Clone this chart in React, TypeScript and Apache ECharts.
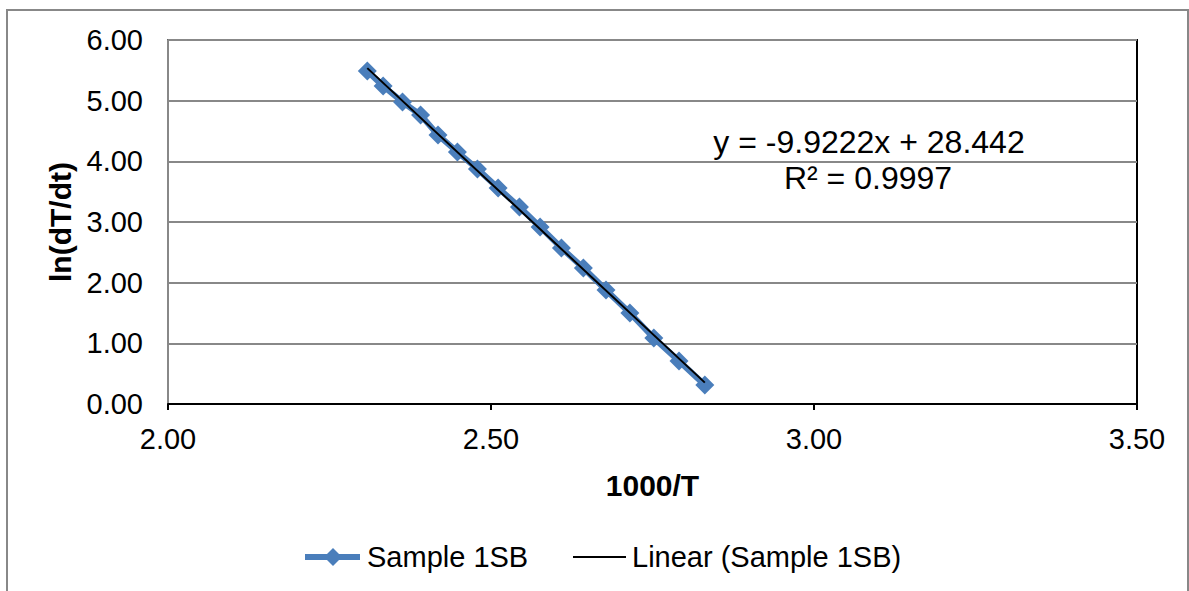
import React, { useEffect, useRef } from "react";
import * as echarts from "echarts";

const xValues = [2.3085, 2.333, 2.363, 2.391, 2.418, 2.448, 2.479, 2.511, 2.544, 2.576, 2.609, 2.643, 2.678, 2.715, 2.752, 2.791, 2.831];
const yValues = [5.489, 5.242, 4.978, 4.764, 4.434, 4.154, 3.874, 3.561, 3.247, 2.918, 2.572, 2.242, 1.879, 1.5, 1.088, 0.709, 0.313];
const slope = -9.9222;
const intercept = 28.442;
const rSquared = "0.9997";
const seriesName = "Sample 1SB";
const trendName = "Linear (Sample 1SB)";
const xTitle = "1000/T";
const yTitle = "ln(dT/dt)";

const FONT = "'Liberation Sans', Arial, sans-serif";
const BLUE = "#4A7EBB";

export default function App() {
  const ref = useRef<HTMLDivElement>(null);
  useEffect(() => {
    document.body.style.margin = "0";
    if (!ref.current) return;
    const chart = echarts.init(ref.current, undefined, { renderer: "svg" });
    const xmin = Math.min(...xValues);
    const xmax = Math.max(...xValues);
    const trend = [
      [xmin, slope * xmin + intercept],
      [xmax, slope * xmax + intercept],
    ];
    const legY = 557;
    chart.setOption({
      animation: false,
      backgroundColor: "#fff",
      textStyle: { fontFamily: FONT },
      grid: {
        left: 168,
        right: 52,
        top: 40,
        bottom: 187,
        show: true,
        borderColor: "#000",
        borderWidth: 2,
        backgroundColor: "transparent",
      },
      xAxis: {
        type: "value",
        min: 2,
        max: 3.5,
        interval: 0.5,
        name: xTitle,
        nameLocation: "middle",
        nameGap: 66,
        nameTextStyle: { fontSize: 30, fontWeight: "bold", color: "#000", fontFamily: FONT },
        axisLine: { show: true, onZero: false, lineStyle: { color: "#000", width: 2 } },
        axisTick: { show: true, inside: false, length: 6, lineStyle: { color: "#000", width: 2 } },
        axisLabel: { fontSize: 29, color: "#000", margin: 20, formatter: (v: number) => v.toFixed(2), fontFamily: FONT },
        splitLine: { show: false },
      },
      yAxis: {
        type: "value",
        min: 0,
        max: 6,
        interval: 1,
        name: yTitle,
        nameLocation: "middle",
        nameGap: 92,
        nameRotate: 90,
        nameTextStyle: { fontSize: 30, fontWeight: "bold", color: "#000", fontFamily: FONT },
        axisLine: { show: true, lineStyle: { color: "#888", width: 2 } },
        axisTick: { show: false },
        axisLabel: { fontSize: 29, color: "#000", margin: 25, formatter: (v: number) => v.toFixed(2), fontFamily: FONT },
        splitLine: { show: true, lineStyle: { color: "#888", width: 2 } },
      },
      graphic: [
        {
          type: "text",
          x: 869,
          y: 142,
          style: { text: "y = " + slope + "x + " + intercept, fontSize: 32, fill: "#000", fontFamily: FONT, textAlign: "center", textVerticalAlign: "middle" },
        },
        {
          type: "text",
          x: 868,
          y: 178,
          style: { text: "R² = " + rSquared, fontSize: 32, fill: "#000", fontFamily: FONT, textAlign: "center", textVerticalAlign: "middle" },
        },
        {
          type: "line",
          shape: { x1: 305, y1: legY, x2: 360, y2: legY },
          style: { stroke: BLUE, lineWidth: 6 },
        },
        {
          type: "polygon",
          shape: { points: [[333, legY - 9], [342, legY], [333, legY + 9], [324, legY]] },
          style: { fill: BLUE },
        },
        {
          type: "text",
          x: 367,
          y: legY,
          style: { text: seriesName, fontSize: 29, fill: "#000", fontFamily: FONT, textVerticalAlign: "middle" },
        },
        {
          type: "line",
          shape: { x1: 573, y1: legY, x2: 626, y2: legY },
          style: { stroke: "#000", lineWidth: 2 },
        },
        {
          type: "text",
          x: 632,
          y: legY,
          style: { text: trendName, fontSize: 29, fill: "#000", fontFamily: FONT, textVerticalAlign: "middle" },
        },
        {
          type: "rect",
          shape: { x: 7, y: 10, width: 1181, height: 600 },
          style: { fill: "none", stroke: "#888", lineWidth: 2 },
          silent: true,
        },
      ],
      series: [
        {
          name: seriesName,
          type: "line",
          data: xValues.map((x, i) => [x, yValues[i]]),
          symbol: "diamond",
          symbolSize: 19,
          lineStyle: { color: BLUE, width: 6 },
          itemStyle: { color: BLUE },
          z: 2,
        },
        {
          name: trendName,
          type: "line",
          data: trend,
          symbol: "none",
          lineStyle: { color: "#000", width: 2 },
          itemStyle: { color: "#000" },
          z: 3,
        },
      ],
    });
    return () => chart.dispose();
  }, []);
  return <div ref={ref} style={{ position: "fixed", left: 0, top: 0, width: 1189, height: 591 }} />;
}
